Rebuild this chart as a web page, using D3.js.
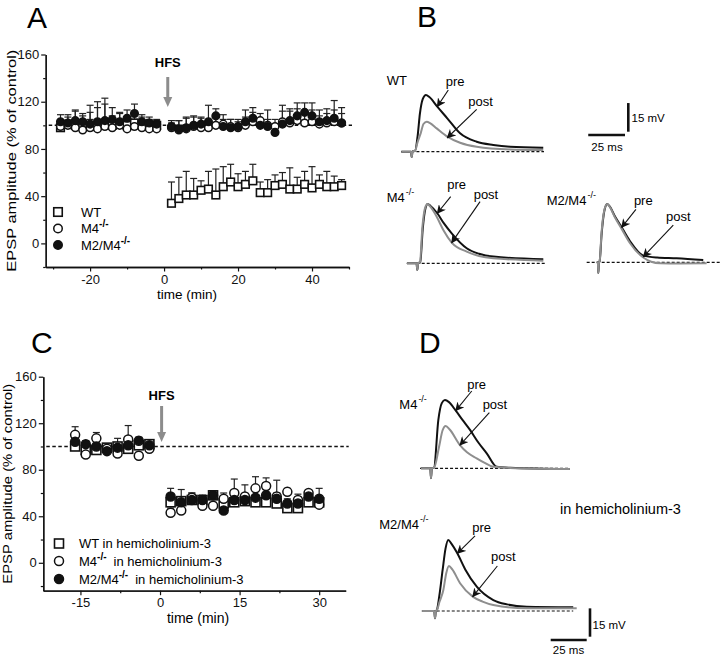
<!DOCTYPE html>
<html>
<head>
<meta charset="utf-8">
<script src="https://cdn.jsdelivr.net/npm/d3@7"></script>
<style>
  body { margin: 0; background: #fff; }
  svg { display: block; font-family: "Liberation Sans", Arial, sans-serif; }
</style>
</head>
<body>
<div id="chart"></div>
<script>
const W = 720, H = 656;

// ---- Panel A data (time in min, EPSP % of control, upper SEM) ----
const timesA = [-28,-26,-24,-22,-20,-18,-16,-14,-12,-10,-8,-6,-4,-2,
  2,4,6,8,10,12,14,16,18,20,22,24,26,28,30,32,34,36,38,40,42,44,46,48];
const wtA = [98,101,100,101,99,100,101,100,101,100,102,101,100,100,
  34,38,41,41,45,46,41,48,52,48,50,53,43,43,49,50,46,46,50,47,50,48,48,49];
const wtAErr = [6,8,12,7,18,20,22,8,9,6,8,6,5,4,
  18,18,20,14,8,15,22,17,15,11,11,14,9,11,9,10,18,10,11,18,8,13,9,5];
const m4A = [99,100,98,96,98,97,99,98,100,97,99,98,97,97,
  98,96,97,99,98,98,100,101,99,98,100,103,104,100,99,103,102,104,102,103,101,102,103,102];
const m4AErr = [5,4,6,5,7,8,5,6,5,4,6,4,3,4,
  4,8,10,9,8,6,8,8,6,5,7,8,6,13,6,9,10,10,8,10,7,8,10,8];
const m2m4A = [103,102,104,103,101,103,104,105,103,106,110,103,102,101,
  99,97,98,100,101,103,108,99,98,99,103,106,100,99,94,101,104,108,111,108,103,104,106,102];
const m2m4AErr = [6,5,9,7,10,12,14,10,8,7,8,6,5,4,
  5,7,8,7,6,14,6,6,7,6,10,9,5,6,6,16,10,11,8,11,10,10,15,13];

// ---- Panel C data (in hemicholinium-3) ----
const timesC = [-16,-14,-12,-10,-8,-6,-4,-2,
  2,4,6,8,10,12,14,16,18,20,22,24,26,28,30];
const wtC = [100,97,97,99,100,98,101,102,
  52,53,54,54,58,51,52,53,52,52,51,47,47,52,52];
const wtCErr = [4,3,4,2,3,4,3,3,
  5,10,6,4,3,5,4,5,4,5,4,4,3,4,4];
const m4C = [110,93,107,98,94,106,92,98,
  43,45,56,49,49,55,60,57,64,66,57,61,54,60,50];
const m4CErr = [7,3,5,2,3,12,3,2,
  4,5,3,4,3,5,12,10,10,7,14,3,5,2,3];
const m2m4C = [104,102,100,96,99,101,105,101,
  57,52,54,54,58,45,54,54,56,58,55,51,51,57,55];
const m2m4CErr = [3,3,3,2,8,3,3,2,
  7,4,6,4,4,6,5,5,6,5,5,4,4,4,9];

const ticksAx = [-20, 0, 20, 40], minorAx = [-30, -10, 10, 30, 50];
const ticksCx = [-15, 0, 15, 30], minorCx = [-7.5, 7.5, 22.5];
const ticksY = [0, 40, 80, 120, 160], minorY = [-20, 20, 60, 100, 140];

// ---- EPSP traces: [ms after stimulus, mV above baseline] ----
const tracesWTpre = [[-7,0],[-0.5,0],[0,-2.8],[0.6,0.3],[2.3,0.5],[4,8],[5.6,20],[7.5,27.5],[9.7,29.7],[12,28.6],[17.4,23.6],[24.2,17.5],[32.9,9.6],[44.2,5.2],[55.5,3.5],[66.9,2.6],[89.5,2.1]];
const tracesWTpost = [[-7,0],[-0.5,0],[0,-2.8],[0.6,0.3],[2.3,0.5],[4,5],[6.1,9.6],[8,14.5],[10.2,15.7],[12.5,15],[17,12.2],[24.2,7.9],[32.9,4.7],[44.2,2.6],[66.9,1.2],[89.5,0.9]];
const tracesM4pre = [[-7,0],[-0.5,0],[0,-3.5],[0.6,0],[2,0.5],[3.7,18],[5.5,28.5],[7.1,31],[9,30],[13.6,26.2],[18,21],[23.4,15.7],[33.6,7.9],[42,5],[51.7,3.5],[85.7,2.1]];
const tracesM4post = [[-7,0],[-0.5,0],[0,-3.5],[0.6,0],[1.8,0.5],[3.5,19.2],[5.3,29],[7,31],[9,29.5],[13.2,24.4],[18,17],[23.4,10.8],[33.6,6.1],[42,3.8],[51.7,2.6],[85.7,1.4]];
const tracesM2M4pre = [[-1,0],[-0.3,0],[0,-5.6],[0.5,0],[0.9,0.5],[2.3,15.2],[4,26.5],[6.1,30.5],[8,29],[11,24.5],[15.9,18.3],[21.6,11],[30.6,3.5],[40,2.5],[53.3,2.1],[71.4,1.2]];
const tracesM2M4post = [[-1,0],[-0.3,0],[0,-5.6],[0.5,0],[0.9,0.5],[2.2,15.5],[4,27],[6.1,30.5],[8,28.8],[11,24],[15.9,17.5],[21.6,10],[30.6,2.5],[36,0.3],[42,-0.5],[55,-0.6],[73.7,-0.5]];
const hcM4pre = [[-7,0],[-0.5,0],[0,-5.3],[0.6,0],[2.1,0.3],[5.1,25.6],[7.5,34.5],[9.7,36.1],[12.5,35],[17.2,30.5],[22,25.5],[27.1,20.3],[33,13.5],[38.7,7.9],[45.6,0.8],[55,0.3],[96.5,-0.4]];
const hcM4post = [[-7,0],[-0.5,0],[0,-5.3],[0.6,0],[2.1,0.3],[5.6,11.4],[8,20],[10.2,22.4],[13,20.5],[20.1,12.3],[25,8.5],[31.7,5.3],[37,3],[43.3,0.8],[55,0.2],[96.5,-0.4]];
const hcM2M4pre = [[-9,0],[-0.5,0],[0,-3.9],[0.6,0],[1.2,0.3],[3,8],[5.3,21.7],[7.3,33],[9.2,37.6],[11.5,35.5],[15.5,30.5],[21,22],[29,12.9],[40.5,5.8],[50,3.5],[63.7,2.3],[96,2]];
const hcM2M4post = [[-9,0],[-0.5,0],[0,-3.9],[0.6,0],[1.2,0.3],[3.2,5],[5.8,11.1],[7.8,20],[9.7,23.8],[12,22],[17.4,14.7],[26.2,7.6],[33,5],[40.5,3.2],[63.7,1.4],[98.4,1.4]];

const BLACK = "#111", GRAY = "#8e8e8e";

const svg = d3.select("#chart").append("svg")
  .attr("width", W).attr("height", H)
  .attr("viewBox", `0 0 ${W} ${H}`);
svg.append("rect").attr("width", W).attr("height", H).attr("fill", "#fff");

const defs = svg.append("defs");
defs.append("marker").attr("id", "head")
  .attr("viewBox", "0 0 10 10").attr("refX", 9).attr("refY", 5)
  .attr("markerWidth", 9).attr("markerHeight", 9)
  .attr("markerUnits", "userSpaceOnUse").attr("orient", "auto")
  .append("path").attr("d", "M0,0 L10,5 L0,10 L3,5 Z").attr("fill", BLACK);

// panel letters
[["A", 27, 28], ["B", 417, 27], ["C", 31, 353], ["D", 419, 353]].forEach(([t, x, y]) => {
  svg.append("text").attr("x", x).attr("y", y).attr("font-size", 30).text(t);
});

function drawPlot(opt) {
  const g = svg.append("g");
  const x = d3.scaleLinear().domain(opt.xDomain).range(opt.xRange);
  const y = d3.scaleLinear().domain(opt.yDomain).range(opt.yRange);

  const styleAxis = sel => {
    sel.selectAll("path.domain").attr("stroke", BLACK).attr("stroke-width", 1.3);
    sel.selectAll(".tick line").attr("stroke", BLACK).attr("stroke-width", 1.2);
    sel.selectAll(".tick text").attr("font-size", 13).attr("fill", BLACK)
      .attr("font-family", "Liberation Sans, Arial, sans-serif");
  };
  const fmt = d => String(d);

  g.append("g").attr("transform", `translate(${opt.xRange[0]},0)`)
    .call(d3.axisLeft(y).tickValues(minorY).tickSize(2.5).tickSizeOuter(0).tickFormat(""))
    .call(styleAxis);
  g.append("g").attr("transform", `translate(${opt.xRange[0]},0)`)
    .call(d3.axisLeft(y).tickValues(ticksY).tickSize(4.5).tickSizeOuter(0).tickPadding(2).tickFormat(fmt))
    .call(styleAxis);
  g.append("g").attr("transform", `translate(0,${opt.yRange[0]})`)
    .call(d3.axisBottom(x).tickValues(opt.xMinor).tickSize(2.5).tickSizeOuter(0).tickFormat(""))
    .call(styleAxis);
  g.append("g").attr("transform", `translate(0,${opt.yRange[0]})`)
    .call(d3.axisBottom(x).tickValues(opt.xTicks).tickSize(4.5).tickSizeOuter(0).tickPadding(3).tickFormat(fmt))
    .call(styleAxis);

  // axis titles
  const yMid = (opt.yRange[0] + opt.yRange[1]) / 2;
  g.append("text")
    .attr("transform", `translate(${opt.yTitleX},${yMid}) rotate(-90)`)
    .attr("text-anchor", "middle").attr("font-size", 13)
    .attr("textLength", opt.yTitleLen).attr("lengthAdjust", "spacingAndGlyphs")
    .text("EPSP amplitude (% of control)");
  g.append("text").attr("x", opt.xTitle[0]).attr("y", opt.xTitle[1])
    .attr("text-anchor", "middle").attr("font-size", opt.xTitleSize).text("time (min)");

  // control level
  g.append("line")
    .attr("x1", opt.xRange[0] + 3).attr("x2", opt.xRange[1] + 3)
    .attr("y1", y(100)).attr("y2", y(100))
    .attr("stroke", BLACK).attr("stroke-width", 1.5).attr("stroke-dasharray", "3.5,2.5");

  // HFS arrow
  const ax = x(opt.hfsT);
  g.append("text").attr("x", ax).attr("y", opt.hfs[0])
    .attr("text-anchor", "middle").attr("font-size", 13).attr("font-weight", "bold").text("HFS");
  g.append("line").attr("x1", ax).attr("x2", ax)
    .attr("y1", opt.hfs[1]).attr("y2", opt.hfs[2] - 8)
    .attr("stroke", "#8c8c8c").attr("stroke-width", 3);
  g.append("path")
    .attr("d", `M${ax - 4.5},${opt.hfs[2] - 10} L${ax + 4.5},${opt.hfs[2] - 10} L${ax},${opt.hfs[2]} Z`)
    .attr("fill", "#8c8c8c");

  // error bars then markers
  const ms = opt.markerSize;
  opt.series.forEach(s => {
    const pts = opt.times.map((t, i) => ({ t, v: s.values[i], e: s.err[i] }));
    const eg = g.append("g").attr("stroke", "#222").attr("stroke-width", 1.2);
    eg.selectAll("line.v").data(pts).join("line").attr("class", "v")
      .attr("x1", d => x(d.t)).attr("x2", d => x(d.t))
      .attr("y1", d => y(d.v)).attr("y2", d => y(d.v + d.e));
    eg.selectAll("line.c").data(pts).join("line").attr("class", "c")
      .attr("x1", d => x(d.t) - 3.5).attr("x2", d => x(d.t) + 3.5)
      .attr("y1", d => y(d.v + d.e)).attr("y2", d => y(d.v + d.e));
  });
  opt.series.forEach(s => {
    const pts = opt.times.map((t, i) => ({ t, v: s.values[i] }));
    drawMarkers(g, pts.map(d => [x(d.t), y(d.v)]), s.shape, ms);
  });

  // legend
  opt.series.forEach((s, i) => {
    const ly = opt.legend.y[i];
    drawMarkers(g, [[opt.legend.x, ly]], s.shape, opt.legend.size);
    const t = g.append("text").attr("x", opt.legend.tx).attr("y", ly + 4.5)
      .attr("font-size", 13);
    t.append("tspan").text(s.label[0]);
    if (s.label[1]) {
      t.append("tspan").attr("dy", -6).attr("font-size", 10).attr("font-weight", "bold").text(s.label[1]);
      if (s.label[2]) t.append("tspan").attr("dy", 6).attr("dx", 7).text(s.label[2]);
    }
  });
}

function drawMarkers(g, pts, shape, size) {
  if (shape === "square") {
    g.append("g").selectAll("rect").data(pts).join("rect")
      .attr("x", d => d[0] - size / 2).attr("y", d => d[1] - size / 2)
      .attr("width", size).attr("height", size)
      .attr("fill", "#fff").attr("stroke", BLACK).attr("stroke-width", 1.6);
  } else {
    g.append("g").selectAll("circle").data(pts).join("circle")
      .attr("cx", d => d[0]).attr("cy", d => d[1]).attr("r", size / 2)
      .attr("fill", shape === "filled" ? BLACK : "#fff")
      .attr("stroke", BLACK).attr("stroke-width", 1.5);
  }
}

drawPlot({
  xDomain: [-32, 50], xRange: [45.7, 349],
  yDomain: [-20, 160], yRange: [267, 54.5],
  xTicks: ticksAx, xMinor: minorAx,
  yTitleX: 16, yTitleLen: 222, xTitle: [187, 299], xTitleSize: 13.5,
  hfsT: 1, hfs: [67, 77, 107],
  times: timesA, markerSize: 7.6,
  series: [
    { values: wtA, err: wtAErr, shape: "square", label: ["WT"] },
    { values: m4A, err: m4AErr, shape: "open", label: ["M4", "-/-"] },
    { values: m2m4A, err: m2m4AErr, shape: "filled", label: ["M2/M4", "-/-"] }
  ],
  legend: { x: 58, tx: 81, y: [212, 228.5, 245], size: 8.5 }
});

drawPlot({
  xDomain: [-22, 35], xRange: [43.3, 345.7],
  yDomain: [-24, 160], yRange: [590.7, 376.7],
  xTicks: ticksCx, xMinor: minorCx,
  yTitleX: 11.5, yTitleLen: 200, xTitle: [198, 623], xTitleSize: 14,
  hfsT: 0.3, hfs: [400, 406, 442],
  times: timesC, markerSize: 9,
  series: [
    { values: wtC, err: wtCErr, shape: "square", label: ["WT in hemicholinium-3"] },
    { values: m4C, err: m4CErr, shape: "open", label: ["M4", "-/-", "in hemicholinium-3"] },
    { values: m2m4C, err: m2m4CErr, shape: "filled", label: ["M2/M4", "-/-", "in hemicholinium-3"] }
  ],
  legend: { x: 59, tx: 79, y: [543.5, 561, 579], size: 9 }
});

// ---- trace panels ----
const traceSets = [
  { ox: 411.7, oy: 151.7, kx: 1.47, ky: 1.91, pre: tracesWTpre, post: tracesWTpost, base: [-7, 90],
    label: ["WT", ""], labelAt: [-17, 37.3],
    preText: [29.5, 36.6], preArrow: [[24.9, 32.3], [17.4, 23.6]],
    postText: [46.9, 26.2], postArrow: [[44.2, 22.2], [24.2, 7.3]] },
  { ox: 417.3, oy: 263.3, kx: 1.47, ky: 1.91, pre: tracesM4pre, post: tracesM4post, base: [-7.2, 87],
    label: ["M4", "-/-"], labelAt: [-20.8, 34.2],
    preText: [26.8, 41], preArrow: [[22.7, 34.9], [13.6, 26.2]],
    postText: [46.7, 35.8], postArrow: [[42.7, 32.3], [23.4, 10.8]] },
  { ox: 598.3, oy: 262.3, kx: 1.47, ky: 1.91, pre: tracesM2M4pre, post: tracesM2M4post, base: [-7.9, 83],
    label: ["M2/M4", "-/-"], labelAt: [-35.1, 32.6],
    preText: [30.6, 32.6], preArrow: [[25.6, 27.7], [15.9, 18.3]],
    postText: [54.4, 24.2], postArrow: [[51, 19.5], [30.6, 2.9]] },
  { ox: 431, oy: 468.3, kx: 1.44, ky: 1.89, pre: hcM4pre, post: hcM4post, base: [-7.6, 96.5],
    label: ["M4", "-/-"], labelAt: [-22, 33.5],
    preText: [31.7, 44.1], preArrow: [[28.3, 40.9], [17.2, 30.5]],
    postText: [44.4, 34], postArrow: [[40.5, 29.4], [20.1, 12.3]] },
  { ox: 435, oy: 611, kx: 1.44, ky: 1.89, pre: hcM2M4pre, post: hcM2M4post, base: [-9.2, 96],
    label: ["M2/M4", "-/-"], labelAt: [-38.7, 46],
    preText: [32.4, 44.3], preArrow: [[27.8, 39.7], [15.5, 30.5]],
    postText: [47.4, 29.1], postArrow: [[43.3, 23.8], [26.2, 7.6]] }
];

traceSets.forEach(s => {
  const g = svg.append("g");
  const x = d3.scaleLinear().domain([0, 1]).range([s.ox, s.ox + s.kx]);
  const y = d3.scaleLinear().domain([0, 1]).range([s.oy, s.oy - s.ky]);
  const line = d3.line().x(d => x(d[0])).y(d => y(d[1])).curve(d3.curveMonotoneX);

  g.append("line").attr("x1", x(s.base[0])).attr("x2", x(s.base[1]))
    .attr("y1", y(0)).attr("y2", y(0))
    .attr("stroke", BLACK).attr("stroke-width", 1.2).attr("stroke-dasharray", "3,2");
  g.append("path").attr("d", line(s.pre)).attr("fill", "none")
    .attr("stroke", BLACK).attr("stroke-width", 2);
  g.append("path").attr("d", line(s.post)).attr("fill", "none")
    .attr("stroke", GRAY).attr("stroke-width", 2);

  const lab = g.append("text").attr("x", x(s.labelAt[0])).attr("y", y(s.labelAt[1]) + 4.5)
    .attr("font-size", 13);
  lab.append("tspan").text(s.label[0]);
  if (s.label[1]) lab.append("tspan").attr("dy", -7).attr("dx", 1).attr("font-size", 9).text(s.label[1]);

  [["pre", s.preText, s.preArrow], ["post", s.postText, s.postArrow]].forEach(([t, p, a]) => {
    g.append("text").attr("x", x(p[0])).attr("y", y(p[1]) + 4.5)
      .attr("text-anchor", "middle").attr("font-size", 13).text(t);
    g.append("line")
      .attr("x1", x(a[0][0])).attr("y1", y(a[0][1]))
      .attr("x2", x(a[1][0])).attr("y2", y(a[1][1]))
      .attr("stroke", BLACK).attr("stroke-width", 1.1).attr("marker-end", "url(#head)");
  });
});

// scale bars (15 mV, 25 ms)
function scaleBar(vx, vyBottom, hxRight, hy, kx, ky, mvText, msText) {
  const g = svg.append("g").attr("stroke", BLACK).attr("stroke-width", 2.6);
  g.append("line").attr("x1", vx).attr("x2", vx).attr("y1", vyBottom).attr("y2", vyBottom - 15 * ky);
  g.append("line").attr("x1", hxRight - 25 * kx).attr("x2", hxRight).attr("y1", hy).attr("y2", hy);
  svg.append("text").attr("x", mvText[0]).attr("y", mvText[1]).attr("font-size", 11.5).text("15 mV");
  svg.append("text").attr("x", msText[0]).attr("y", msText[1]).attr("text-anchor", "middle")
    .attr("font-size", 11.5).text("25 ms");
}
scaleBar(628.3, 131.7, 625, 135, 1.47, 1.91, [631.5, 121.5], [607, 151]);
scaleBar(590, 636.7, 586.7, 640, 1.44, 1.89, [592.5, 629], [568.5, 654]);

svg.append("text").attr("x", 560).attr("y", 514).attr("font-size", 14.5).text("in hemicholinium-3");
</script>
</body>
</html>
